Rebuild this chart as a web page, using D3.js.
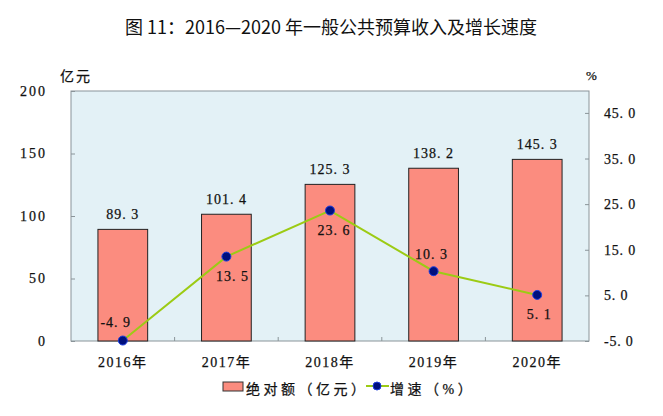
<!DOCTYPE html>
<html>
<head>
<meta charset="utf-8">
<script src="https://cdn.jsdelivr.net/npm/d3@7"></script>
<style>
  body { margin: 0; background: #fff; }
  text { font-family: "Liberation Serif", "Noto Sans CJK SC", serif; fill: #111; stroke: #111; stroke-width: 0.25px; }
  .title { font-family: "Noto Sans CJK SC", sans-serif; stroke: none; }
</style>
</head>
<body>
<div id="chart"></div>
<script>
var years = ["2016年", "2017年", "2018年", "2019年", "2020年"];
var amounts = [89.3, 101.4, 125.3, 138.2, 145.3];
var growth = [-4.9, 13.5, 23.6, 10.3, 5.1];
var leftTicks = [0, 50, 100, 150, 200];
var rightTicks = [-5, 5, 15, 25, 35, 45];
// label offsets for the growth values (dx, dy)
var growthLabelPos = [[-7, -14], [6, 24], [4, 24], [-2, -12], [2, 24]];

function init() {
    var w = 663, h = 416;
    var m = { left: 71, right: 74, top: 91, bottom: 75 };
    var pw = w - m.left - m.right;
    var ph = h - m.top - m.bottom;

    var svg = d3.select("#chart").append("svg")
        .attr("width", w).attr("height", h);

    svg.append("text").attr("class", "title")
        .attr("x", 331).attr("y", 34)
        .attr("text-anchor", "middle")
        .style("font-size", "18px")
        .text("图 11：2016—2020 年一般公共预算收入及增长速度");

    var g = svg.append("g").attr("transform", "translate(" + m.left + "," + m.top + ")");

    var x = d3.scaleBand().domain(years).range([0, pw]).paddingInner(0.52).paddingOuter(0.26);
    var yL = d3.scaleLinear().domain([0, 200]).range([ph, 0]);
    var yR = d3.scaleLinear().domain([-5, 49.8]).range([ph, 0]);

    g.append("rect").attr("width", pw).attr("height", ph)
        .attr("fill", "#e3f1f6").attr("stroke", "#8a9499").attr("stroke-width", 1);

    // left axis
    var axL = g.append("g").call(d3.axisLeft(yL).tickValues(leftTicks).tickSize(-4).tickPadding(24));
    axL.select(".domain").remove();
    axL.selectAll("line").attr("stroke", "#8a9499");
    axL.selectAll("text").style("font-size", "14px").style("letter-spacing", "2px");

    // right axis
    var axR = g.append("g").attr("transform", "translate(" + pw + ",0)")
        .call(d3.axisRight(yR).tickValues(rightTicks).tickSize(-4).tickPadding(15)
            .tickFormat(function(d) { return d3.format(".1f")(d).replace("−", "-").replace(".", ". "); }));
    axR.select(".domain").remove();
    axR.selectAll("line").attr("stroke", "#8a9499");
    axR.selectAll("text").style("font-size", "14px").style("letter-spacing", "0.8px");

    // bottom category ticks
    g.selectAll(".ctick").data(d3.range(1, years.length)).enter().append("line")
        .attr("x1", function(i) { return pw / years.length * i; })
        .attr("x2", function(i) { return pw / years.length * i; })
        .attr("y1", ph).attr("y2", ph - 4)
        .attr("stroke", "#8a9499");

    g.selectAll(".xlab").data(years).enter().append("text")
        .attr("x", function(d) { return x(d) + x.bandwidth() / 2; })
        .attr("y", ph + 26)
        .attr("text-anchor", "middle")
        .style("font-size", "14px").style("letter-spacing", "1.5px")
        .text(function(d) { return d; });

    svg.append("text").attr("x", 60).attr("y", 81).style("font-size", "14px").style("letter-spacing", "2px").text("亿元");
    svg.append("text").attr("x", 586).attr("y", 80).style("font-size", "13px").text("%");

    // bars
    g.selectAll(".bar").data(amounts).enter().append("rect")
        .attr("x", function(d, i) { return x(years[i]); })
        .attr("y", function(d) { return yL(d); })
        .attr("width", x.bandwidth())
        .attr("height", function(d) { return ph - yL(d); })
        .attr("fill", "#fb8c7f").attr("stroke", "#222").attr("stroke-width", 1);

    g.selectAll(".blab").data(amounts).enter().append("text")
        .attr("x", function(d, i) { return x(years[i]) + x.bandwidth() / 2; })
        .attr("y", function(d) { return yL(d) - 10; })
        .attr("text-anchor", "middle")
        .style("font-size", "14px").style("letter-spacing", "1px")
        .text(function(d) { return d3.format(".1f")(d).replace(".", ". "); });

    // growth line
    var line = d3.line()
        .x(function(d, i) { return x(years[i]) + x.bandwidth() / 2; })
        .y(function(d) { return yR(d); });

    g.append("path").datum(growth).attr("d", line)
        .attr("fill", "none").attr("stroke", "#9ccb14").attr("stroke-width", 2);

    g.selectAll(".dot").data(growth).enter().append("circle")
        .attr("cx", function(d, i) { return x(years[i]) + x.bandwidth() / 2; })
        .attr("cy", function(d) { return yR(d); })
        .attr("r", 4.5)
        .attr("fill", "#00107e").attr("stroke", "#1f3fe0").attr("stroke-width", 1);

    g.selectAll(".glab").data(growth).enter().append("text")
        .attr("x", function(d, i) { return x(years[i]) + x.bandwidth() / 2 + growthLabelPos[i][0]; })
        .attr("y", function(d, i) { return yR(d) + growthLabelPos[i][1]; })
        .attr("text-anchor", "middle")
        .style("font-size", "14px").style("letter-spacing", "1px")
        .text(function(d) { return d3.format(".1f")(d).replace("−", "-").replace(".", ". "); });

    // legend
    var lg = svg.append("g");
    lg.append("rect").attr("x", 223).attr("y", 382).attr("width", 20).attr("height", 9)
        .attr("fill", "#fb8c7f").attr("stroke", "#333");
    lg.append("text").attr("x", 246).attr("y", 394).style("font-size", "14px").style("letter-spacing", "3.5px")
        .text("绝对额（亿元）");
    lg.append("line").attr("x1", 366).attr("x2", 389).attr("y1", 386).attr("y2", 386)
        .attr("stroke", "#9ccb14").attr("stroke-width", 2);
    lg.append("circle").attr("cx", 377).attr("cy", 386).attr("r", 4)
        .attr("fill", "#00107e").attr("stroke", "#1f3fe0");
    lg.append("text").attr("x", 390).attr("y", 394).style("font-size", "14px").style("letter-spacing", "3.5px")
        .text("增速（%）");
}

window.onload = init;
</script>
</body>
</html>
